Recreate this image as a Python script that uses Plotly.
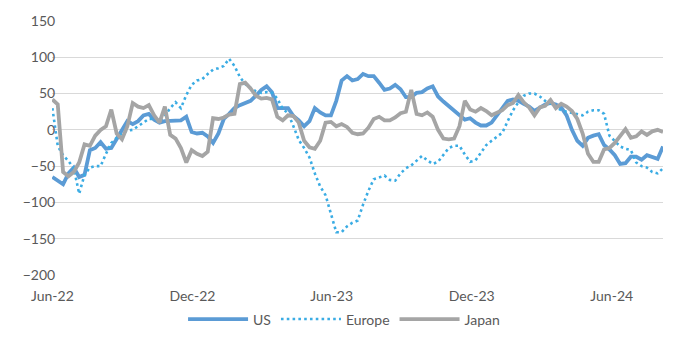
import pandas as pd
import plotly.graph_objects as go

# Weekly readings, first week of June 2022 onward
start_date = "2022-06-01"

us = [-65, -70, -75, -60, -52, -65, -62, -28, -25, -17,
      -26, -25, -12, 0, 12, 8, 12, 20, 22, 14,
      10, 12, 12, 12, 13, 18, -3, -5, -4, -9,
      -18, -5, 15, 22, 30, 34, 37, 40, 47, 55,
      60, 52, 30, 30, 30, 19, 13, 5, 12, 30,
      24, 20, 20, 40, 68, 74, 68, 70, 77, 74,
      74, 65, 55, 57, 62, 56, 45, 45, 51, 52,
      57, 60, 46, 39, 33, 27, 20, 14, 16, 10,
      6, 6, 10, 20, 31, 40, 42, 40, 36, 32,
      26, 30, 35, 37, 35, 31, 20, 0, -15, -22,
      -11, -8, -6, -21, -27, -35, -47, -46, -37, -37,
      -41, -35, -37, -40, -23]

europe = [30, -22, -35, -43, -53, -88, -62, -52, -50, -50,
          -33, -18, -11, -5, -1, 0, 5, 10, 15, 15,
          12, 19, 30, 38, 30, 48, 62, 68, 70, 77,
          83, 85, 88, 98, 88, 73, 63, 58, 53, 51,
          52, 51, 43, 29, 23, 5, -14, -25, -38, -60,
          -78, -90, -115, -141, -141, -133, -128, -125, -103, -84,
          -68, -65, -63, -69, -70, -60, -53, -49, -43, -36,
          -42, -47, -44, -35, -25, -22, -22, -34, -44, -42,
          -32, -21, -15, -10, -4, 12, 27, 38, 47, 50,
          50, 46, 40, 36, 31, 27, 25, 23, 22, 20,
          25, 27, 27, 22, -8, -16, -23, -26, -28, -45,
          -50, -52, -58, -60, -53]

japan = [42, 35, -58, -64, -58, -45, -20, -22, -8, 0,
         5, 28, -5, -13, 5, 37, 32, 30, 34, 20,
         10, 32, -7, -12, -25, -45, -28, -33, -36, -30,
         16, 15, 17, 21, 22, 63, 65, 57, 47, 43,
         44, 42, 18, 13, 20, 19, 10, -15, -24, -26,
         -15, 10, 11, 5, 8, 4, -4, -6, -5, 3,
         15, 18, 13, 13, 17, 23, 25, 55, 22, 20,
         24, 18, 0, -12, -13, -12, 5, 40, 28, 25,
         30, 26, 20, 24, 27, 34, 37, 48, 38, 31,
         20, 31, 33, 41, 30, 36, 32, 26, 15, -5,
         -33, -44, -44, -27, -25, -18, -8, 1, -11, -9,
         -2, -7, -2, 0, -3]

tick_dates = ["2022-06-01", "2022-12-01", "2023-06-01", "2023-12-01", "2024-06-01"]
tick_labels = ["Jun-22", "Dec-22", "Jun-23", "Dec-23", "Jun-24"]
y_ticks = [150, 100, 50, 0, -50, -100, -150, -200]

dates = pd.date_range(start_date, periods=len(us), freq="7D")

fig = go.Figure()
fig.add_trace(go.Scatter(
    x=dates, y=us, name="US", mode="lines",
    line=dict(color="#5B9BD5", width=3.8),
))
fig.add_trace(go.Scatter(
    x=dates, y=europe, name="Europe", mode="lines",
    line=dict(color="#3AACE4", width=2.6, dash="2.6px,3.2px"),
))
fig.add_trace(go.Scatter(
    x=dates, y=japan, name="Japan", mode="lines",
    line=dict(color="#A5A5A5", width=3.8),
))

text_font = dict(family="Lato, 'Open Sans', sans-serif", size=14, color="#595959")

fig.update_layout(
    width=689, height=348,
    margin=dict(l=52, r=26, t=18, b=73),
    paper_bgcolor="white", plot_bgcolor="white",
    font=text_font,
    showlegend=True,
    legend=dict(
        orientation="h", x=0.478, xanchor="center",
        y=-0.175, yanchor="middle",
        font=text_font, itemwidth=60, tracegroupgap=0,
    ),
    xaxis=dict(
        type="date",
        range=[pd.Timestamp(start_date) - pd.Timedelta(hours=12), dates[-1]],
        tickmode="array", tickvals=tick_dates, ticktext=tick_labels,
        showgrid=False, zeroline=False, showline=False,
        ticks="", ticklabelstandoff=11,
        tickfont=text_font,
    ),
    yaxis=dict(
        range=[-200, 150],
        tickmode="array", tickvals=y_ticks,
        showgrid=True, gridcolor="#D9D9D9", gridwidth=1,
        zeroline=False, showline=False,
        ticks="outside", ticklen=0, tickcolor="rgba(0,0,0,0)",
        ticklabelstandoff=-7,
        tickfont=text_font,
    ),
)

fig.write_html("out.html")
